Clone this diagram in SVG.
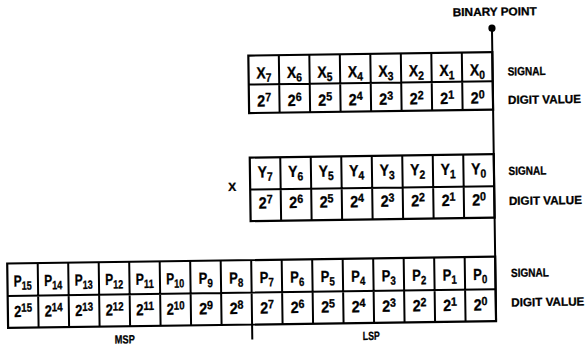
<svg xmlns="http://www.w3.org/2000/svg" width="585" height="349" viewBox="0 0 585 349">
<style>
.bx{fill:#fff;stroke:#000;stroke-width:2.2}
.ln{stroke:#000;stroke-width:2;fill:none}
text{font-family:"Liberation Sans",Arial,sans-serif;font-weight:bold;fill:#000;stroke:#000;stroke-width:0.3}
.c{font-size:16px;text-anchor:middle}
.s{font-size:12px}
.lb{font-size:11.8px}
</style>
<rect width="585" height="349" fill="#fff"/>
<g transform="rotate(-0.8 292 175)">
<g id="x-register">
<rect class="bx" x="250" y="55" width="244" height="57.5"/>
<path class="ln" d="M250 84H494M280.5 55V112.5M311 55V112.5M341.5 55V112.5M372 55V112.5M402.5 55V112.5M433 55V112.5M463.5 55V112.5"/>
<text class="c" x="265.25" y="78" textLength="15" lengthAdjust="spacingAndGlyphs">X<tspan class="s" dy="3.5">7</tspan></text>
<text class="c" x="295.75" y="78" textLength="15" lengthAdjust="spacingAndGlyphs">X<tspan class="s" dy="3.5">6</tspan></text>
<text class="c" x="326.25" y="78" textLength="15" lengthAdjust="spacingAndGlyphs">X<tspan class="s" dy="3.5">5</tspan></text>
<text class="c" x="356.75" y="78" textLength="15" lengthAdjust="spacingAndGlyphs">X<tspan class="s" dy="3.5">4</tspan></text>
<text class="c" x="387.25" y="78" textLength="15" lengthAdjust="spacingAndGlyphs">X<tspan class="s" dy="3.5">3</tspan></text>
<text class="c" x="417.75" y="78" textLength="15" lengthAdjust="spacingAndGlyphs">X<tspan class="s" dy="3.5">2</tspan></text>
<text class="c" x="448.25" y="78" textLength="15" lengthAdjust="spacingAndGlyphs">X<tspan class="s" dy="3.5">1</tspan></text>
<text class="c" x="478.75" y="78" textLength="15" lengthAdjust="spacingAndGlyphs">X<tspan class="s" dy="3.5">0</tspan></text>
<text class="c" x="265.25" y="106" textLength="14" lengthAdjust="spacingAndGlyphs">2<tspan class="s" dy="-5">7</tspan></text>
<text class="c" x="295.75" y="106" textLength="14" lengthAdjust="spacingAndGlyphs">2<tspan class="s" dy="-5">6</tspan></text>
<text class="c" x="326.25" y="106" textLength="14" lengthAdjust="spacingAndGlyphs">2<tspan class="s" dy="-5">5</tspan></text>
<text class="c" x="356.75" y="106" textLength="14" lengthAdjust="spacingAndGlyphs">2<tspan class="s" dy="-5">4</tspan></text>
<text class="c" x="387.25" y="106" textLength="14" lengthAdjust="spacingAndGlyphs">2<tspan class="s" dy="-5">3</tspan></text>
<text class="c" x="417.75" y="106" textLength="14" lengthAdjust="spacingAndGlyphs">2<tspan class="s" dy="-5">2</tspan></text>
<text class="c" x="448.25" y="106" textLength="14" lengthAdjust="spacingAndGlyphs">2<tspan class="s" dy="-5">1</tspan></text>
<text class="c" x="478.75" y="106" textLength="14" lengthAdjust="spacingAndGlyphs">2<tspan class="s" dy="-5">0</tspan></text>
<text class="lb" x="509" y="78.5" textLength="38" lengthAdjust="spacingAndGlyphs">SIGNAL</text>
<text class="lb" x="509" y="107" textLength="73" lengthAdjust="spacingAndGlyphs">DIGIT VALUE</text>
</g>
<g id="y-register">
<rect class="bx" x="250" y="157" width="244" height="63.5"/>
<path class="ln" d="M250 189H494M280.5 157V220.5M311 157V220.5M341.5 157V220.5M372 157V220.5M402.5 157V220.5M433 157V220.5M463.5 157V220.5"/>
<text class="c" x="265.25" y="177" textLength="15" lengthAdjust="spacingAndGlyphs">Y<tspan class="s" dy="3.5">7</tspan></text>
<text class="c" x="295.75" y="177" textLength="15" lengthAdjust="spacingAndGlyphs">Y<tspan class="s" dy="3.5">6</tspan></text>
<text class="c" x="326.25" y="177" textLength="15" lengthAdjust="spacingAndGlyphs">Y<tspan class="s" dy="3.5">5</tspan></text>
<text class="c" x="356.75" y="177" textLength="15" lengthAdjust="spacingAndGlyphs">Y<tspan class="s" dy="3.5">4</tspan></text>
<text class="c" x="387.25" y="177" textLength="15" lengthAdjust="spacingAndGlyphs">Y<tspan class="s" dy="3.5">3</tspan></text>
<text class="c" x="417.75" y="177" textLength="15" lengthAdjust="spacingAndGlyphs">Y<tspan class="s" dy="3.5">2</tspan></text>
<text class="c" x="448.25" y="177" textLength="15" lengthAdjust="spacingAndGlyphs">Y<tspan class="s" dy="3.5">1</tspan></text>
<text class="c" x="478.75" y="177" textLength="15" lengthAdjust="spacingAndGlyphs">Y<tspan class="s" dy="3.5">0</tspan></text>
<text class="c" x="265.25" y="208" textLength="14" lengthAdjust="spacingAndGlyphs">2<tspan class="s" dy="-5">7</tspan></text>
<text class="c" x="295.75" y="208" textLength="14" lengthAdjust="spacingAndGlyphs">2<tspan class="s" dy="-5">6</tspan></text>
<text class="c" x="326.25" y="208" textLength="14" lengthAdjust="spacingAndGlyphs">2<tspan class="s" dy="-5">5</tspan></text>
<text class="c" x="356.75" y="208" textLength="14" lengthAdjust="spacingAndGlyphs">2<tspan class="s" dy="-5">4</tspan></text>
<text class="c" x="387.25" y="208" textLength="14" lengthAdjust="spacingAndGlyphs">2<tspan class="s" dy="-5">3</tspan></text>
<text class="c" x="417.75" y="208" textLength="14" lengthAdjust="spacingAndGlyphs">2<tspan class="s" dy="-5">2</tspan></text>
<text class="c" x="448.25" y="208" textLength="14" lengthAdjust="spacingAndGlyphs">2<tspan class="s" dy="-5">1</tspan></text>
<text class="c" x="478.75" y="208" textLength="14" lengthAdjust="spacingAndGlyphs">2<tspan class="s" dy="-5">0</tspan></text>
<text class="lb" x="508.5" y="178" textLength="38" lengthAdjust="spacingAndGlyphs">SIGNAL</text>
<text class="lb" x="508.5" y="208" textLength="73" lengthAdjust="spacingAndGlyphs">DIGIT VALUE</text>
</g>
<g id="times-label">
<text class="lb" x="232" y="190" text-anchor="middle" textLength="8" lengthAdjust="spacingAndGlyphs">X</text>
</g>
<g id="p-register">
<rect class="bx" x="6" y="259.5" width="488" height="64.5"/>
<path class="ln" d="M6 292H494M36.5 259.5V324M67 259.5V324M97.5 259.5V324M128 259.5V324M158.5 259.5V324M189 259.5V324M219.5 259.5V324M250 259.5V324M280.5 259.5V324M311 259.5V324M341.5 259.5V324M372 259.5V324M402.5 259.5V324M433 259.5V324M463.5 259.5V324"/>
<text class="c" x="21.25" y="282.5" textLength="18" lengthAdjust="spacingAndGlyphs">P<tspan class="s" dy="3.5">15</tspan></text>
<text class="c" x="51.75" y="282.5" textLength="18" lengthAdjust="spacingAndGlyphs">P<tspan class="s" dy="3.5">14</tspan></text>
<text class="c" x="82.25" y="282.5" textLength="18" lengthAdjust="spacingAndGlyphs">P<tspan class="s" dy="3.5">13</tspan></text>
<text class="c" x="112.75" y="282.5" textLength="18" lengthAdjust="spacingAndGlyphs">P<tspan class="s" dy="3.5">12</tspan></text>
<text class="c" x="143.25" y="282.5" textLength="18" lengthAdjust="spacingAndGlyphs">P<tspan class="s" dy="3.5">11</tspan></text>
<text class="c" x="173.75" y="282.5" textLength="18" lengthAdjust="spacingAndGlyphs">P<tspan class="s" dy="3.5">10</tspan></text>
<text class="c" x="204.25" y="282.5" textLength="14" lengthAdjust="spacingAndGlyphs">P<tspan class="s" dy="3.5">9</tspan></text>
<text class="c" x="234.75" y="282.5" textLength="14" lengthAdjust="spacingAndGlyphs">P<tspan class="s" dy="3.5">8</tspan></text>
<text class="c" x="265.25" y="282.5" textLength="14" lengthAdjust="spacingAndGlyphs">P<tspan class="s" dy="3.5">7</tspan></text>
<text class="c" x="295.75" y="282.5" textLength="14" lengthAdjust="spacingAndGlyphs">P<tspan class="s" dy="3.5">6</tspan></text>
<text class="c" x="326.25" y="282.5" textLength="14" lengthAdjust="spacingAndGlyphs">P<tspan class="s" dy="3.5">5</tspan></text>
<text class="c" x="356.75" y="282.5" textLength="14" lengthAdjust="spacingAndGlyphs">P<tspan class="s" dy="3.5">4</tspan></text>
<text class="c" x="387.25" y="282.5" textLength="14" lengthAdjust="spacingAndGlyphs">P<tspan class="s" dy="3.5">3</tspan></text>
<text class="c" x="417.75" y="282.5" textLength="14" lengthAdjust="spacingAndGlyphs">P<tspan class="s" dy="3.5">2</tspan></text>
<text class="c" x="448.25" y="282.5" textLength="14" lengthAdjust="spacingAndGlyphs">P<tspan class="s" dy="3.5">1</tspan></text>
<text class="c" x="478.75" y="282.5" textLength="14" lengthAdjust="spacingAndGlyphs">P<tspan class="s" dy="3.5">0</tspan></text>
<text class="c" x="21.25" y="313" textLength="18" lengthAdjust="spacingAndGlyphs">2<tspan class="s" dy="-5">15</tspan></text>
<text class="c" x="51.75" y="313" textLength="18" lengthAdjust="spacingAndGlyphs">2<tspan class="s" dy="-5">14</tspan></text>
<text class="c" x="82.25" y="313" textLength="18" lengthAdjust="spacingAndGlyphs">2<tspan class="s" dy="-5">13</tspan></text>
<text class="c" x="112.75" y="313" textLength="18" lengthAdjust="spacingAndGlyphs">2<tspan class="s" dy="-5">12</tspan></text>
<text class="c" x="143.25" y="313" textLength="18" lengthAdjust="spacingAndGlyphs">2<tspan class="s" dy="-5">11</tspan></text>
<text class="c" x="173.75" y="313" textLength="18" lengthAdjust="spacingAndGlyphs">2<tspan class="s" dy="-5">10</tspan></text>
<text class="c" x="204.25" y="313" textLength="14" lengthAdjust="spacingAndGlyphs">2<tspan class="s" dy="-5">9</tspan></text>
<text class="c" x="234.75" y="313" textLength="14" lengthAdjust="spacingAndGlyphs">2<tspan class="s" dy="-5">8</tspan></text>
<text class="c" x="265.25" y="313" textLength="14" lengthAdjust="spacingAndGlyphs">2<tspan class="s" dy="-5">7</tspan></text>
<text class="c" x="295.75" y="313" textLength="14" lengthAdjust="spacingAndGlyphs">2<tspan class="s" dy="-5">6</tspan></text>
<text class="c" x="326.25" y="313" textLength="14" lengthAdjust="spacingAndGlyphs">2<tspan class="s" dy="-5">5</tspan></text>
<text class="c" x="356.75" y="313" textLength="14" lengthAdjust="spacingAndGlyphs">2<tspan class="s" dy="-5">4</tspan></text>
<text class="c" x="387.25" y="313" textLength="14" lengthAdjust="spacingAndGlyphs">2<tspan class="s" dy="-5">3</tspan></text>
<text class="c" x="417.75" y="313" textLength="14" lengthAdjust="spacingAndGlyphs">2<tspan class="s" dy="-5">2</tspan></text>
<text class="c" x="448.25" y="313" textLength="14" lengthAdjust="spacingAndGlyphs">2<tspan class="s" dy="-5">1</tspan></text>
<text class="c" x="478.75" y="313" textLength="14" lengthAdjust="spacingAndGlyphs">2<tspan class="s" dy="-5">0</tspan></text>
<text class="lb" x="509.5" y="280" textLength="38" lengthAdjust="spacingAndGlyphs">SIGNAL</text>
<text class="lb" x="509.5" y="309.5" textLength="73" lengthAdjust="spacingAndGlyphs">DIGIT VALUE</text>
<text class="lb" x="122.5" y="341" text-anchor="middle" textLength="20" lengthAdjust="spacingAndGlyphs">MSP</text>
<text class="lb" x="369" y="341" text-anchor="middle" textLength="17" lengthAdjust="spacingAndGlyphs">LSP</text>
</g>
<g id="connectors">
<path class="ln" d="M494 31V324M250 324V339"/>
<circle cx="494" cy="31" r="3.6" fill="#000"/>
</g>
<g id="binary-point">
<text x="497" y="18.5" font-size="11.5" text-anchor="middle" textLength="84" lengthAdjust="spacingAndGlyphs">BINARY POINT</text>
</g>
</g>
</svg>
